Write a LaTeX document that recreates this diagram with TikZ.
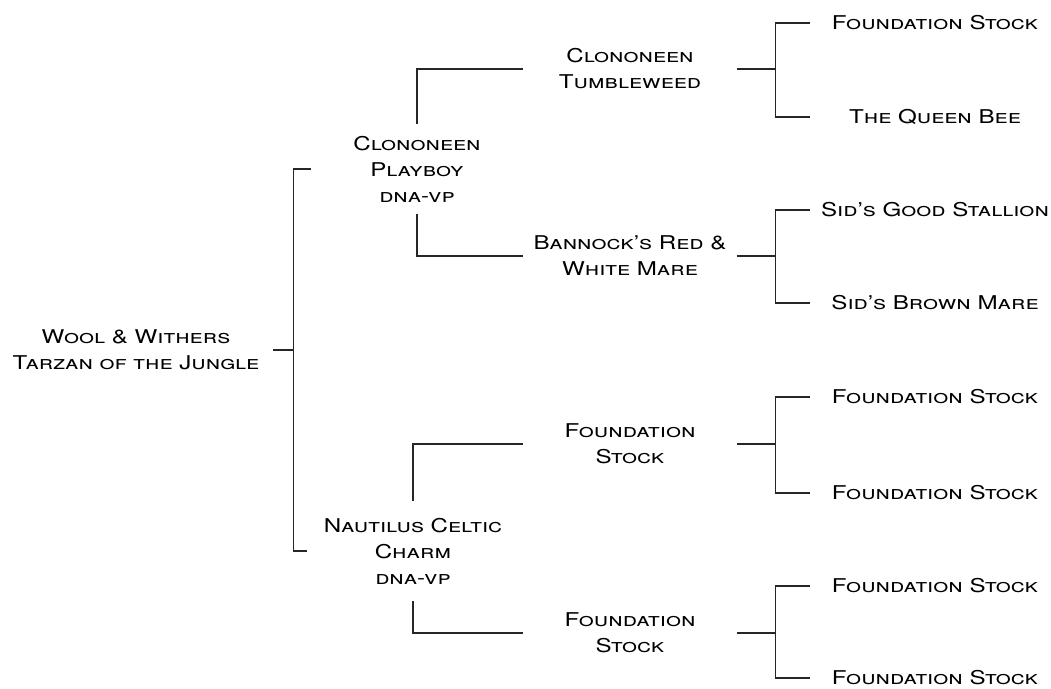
\documentclass[tikz,border=0pt]{standalone}
\usepackage{fontspec}
\setmainfont{TeX Gyre Heros}[FakeStretch=1.27]
\usetikzlibrary{positioning}
\usetikzlibrary{calc}

\begin{document}
\begin{tikzpicture}[x=1pt, y=-1pt, horse node/.style={shape=rectangle,inner sep=0,align=center,font=\fontsize{19}{26}\selectfont\scshape}, root node/.style={horse node,minimum width=274pt}, sire node/.style={horse node,minimum width=212pt}, gsire node/.style={horse node,minimum width=213pt}, ggsire node/.style={horse node,minimum width=250pt}, link/.style={draw=black!85,line width=1.3pt}, ]
		\useasboundingbox (0,0) rectangle (1051,688);
		\node[root node] (wool) at (136,350){Wool \& Withers\\Tarzan of the Jungle};
		\node[sire node,minimum height=89pt] (playboy) at (417,169){Clononeen\\Playboy\\dna-vp};
		\node[sire node,minimum height=100pt] (nautilus) at (413,551){Nautilus Celtic\\Charm\\dna-vp};
		\node[gsire node] (tumble) at (630,69){Clononeen\\Tumbleweed};
		\node[gsire node] (bannock) at (630,256){Bannock's Red \&\\White Mare};
		\node[gsire node] (found1) at (630,444){Foundation\\Stock};
		\node[gsire node] (found2) at (630,633){Foundation\\Stock};
		%last generation
		\foreach \n/\y/\t in {g1/23/Foundation Stock, g2/117/The Queen Bee, g3/210/Sid's Good Stallion, g4/303/Sid's Brown Mare, g5/397/Foundation Stock, g6/493/Foundation Stock, g7/586/Foundation Stock, g8/678/Foundation Stock}
		{
			\node[ggsire node] (\n) at (935,\y){\t};
		}
		
		%brackets
		\coordinate (j0) at ($(wool.east)+(20,0)$);
		\path[link] (wool.east) -- (j0) |- (playboy.west);
		\path[link] (j0) |- (nautilus.west);
		\path[link] (playboy.north) |- (tumble.west);
		\path[link] (playboy.south) |- (bannock.west);
		\path[link] (nautilus.north) |- (found1.west);
		\path[link] (nautilus.south) |- (found2.west);
		\foreach \p/\a/\b in {tumble/g1/g2, bannock/g3/g4, found1/g5/g6, found2/g7/g8}
		{
			\coordinate (j\p) at ($(\p.east)+(39,0)$);
			\path[link] (\p.east) -- (j\p) |- (\a.west);
			\path[link] (j\p) |- (\b.west);
		}
		
\end{tikzpicture}
\end{document}
